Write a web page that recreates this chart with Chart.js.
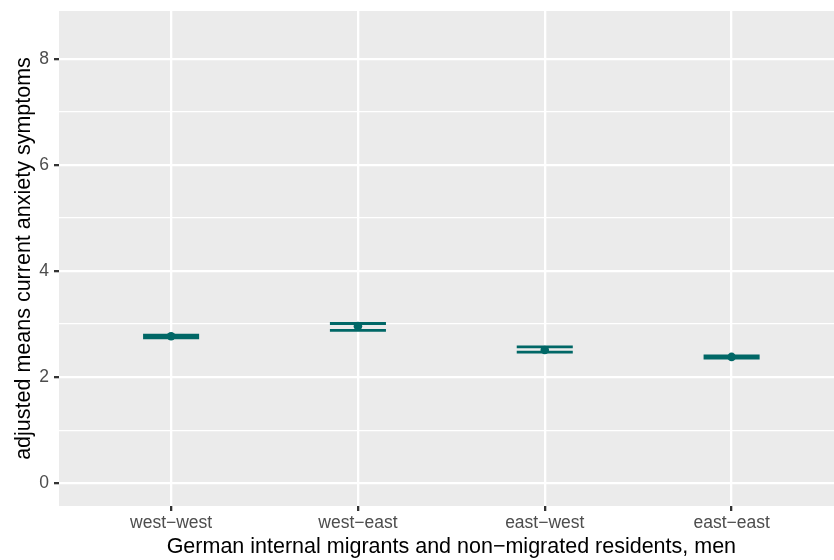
<!DOCTYPE html>
<html>
<head>
<meta charset="utf-8">
<script src="https://cdn.jsdelivr.net/npm/chart.js@4/dist/chart.umd.min.js"></script>
<style>
  html, body { margin: 0; padding: 0; background: #ffffff; }
  #wrap { width: 834px; height: 560px; overflow: hidden; }
</style>
</head>
<body>
<div id="wrap"><canvas id="c" width="848" height="560"></canvas></div>
<script>
// Groups of residents (origin-destination)
const categories = ['west\u2212west', 'west\u2212east', 'east\u2212west', 'east\u2212east'];
// Adjusted means and their confidence limits
const means = [2.77, 2.96, 2.51, 2.38];
const lower = [2.74, 2.88, 2.47, 2.36];
const upper = [2.79, 3.01, 2.57, 2.40];
// Axis ticks
const yMajorTicks = [0, 2, 4, 6, 8];
const yMinorTicks = [1, 3, 5, 7];

const TEAL = '#006766';
const CAP = 0.15; // half width of error bar caps, in category units

// Error-bar segments (caps + stem) built from the limits, separated by gaps
const capData = [];
const stemData = [];
categories.forEach((_, i) => {
  capData.push({x: i - CAP, y: upper[i]}, {x: i + CAP, y: upper[i]}, {x: i, y: null});
  capData.push({x: i - CAP, y: lower[i]}, {x: i + CAP, y: lower[i]}, {x: i, y: null});
  stemData.push({x: i, y: lower[i]}, {x: i, y: upper[i]}, {x: i, y: null});
});
const pointData = means.map((m, i) => ({x: i, y: m}));

const yAllTicks = yMajorTicks.concat(yMinorTicks).sort((a, b) => a - b);
const isMajor = v => yMajorTicks.includes(v);

const panelBg = {
  id: 'panelBg',
  beforeDraw(chart) {
    const {ctx, chartArea: a} = chart;
    ctx.save();
    ctx.fillStyle = '#EBEBEB';
    ctx.fillRect(a.left, a.top, a.right - a.left, a.bottom - a.top);
    ctx.restore();
  }
};

Chart.defaults.font.family = '"Liberation Sans", Arial, Helvetica, sans-serif';

new Chart(document.getElementById('c'), {
  type: 'line',
  data: {
    datasets: [
      {
        data: stemData, borderColor: TEAL, borderWidth: 2.8, pointRadius: 0,
        spanGaps: false, borderCapStyle: 'butt', order: 3
      },
      {
        data: capData, borderColor: TEAL, borderWidth: 2.8, pointRadius: 0,
        spanGaps: false, borderCapStyle: 'butt', order: 2
      },
      {
        data: pointData, showLine: false, pointRadius: 4.3, pointBorderWidth: 0,
        pointBackgroundColor: TEAL, borderColor: TEAL, order: 1
      }
    ]
  },
  options: {
    responsive: false,
    devicePixelRatio: 1,
    animation: false,
    events: [],
    layout: { padding: { top: 11, left: 0, right: 0, bottom: 0 } },
    plugins: { legend: { display: false }, tooltip: { enabled: false } },
    scales: {
      x: {
        type: 'linear',
        min: -0.6,
        max: 3.6,
        afterBuildTicks(scale) { scale.ticks = categories.map((_, i) => ({value: i})); },
        afterFit(scale) {
          scale.height = 54;
          scale.paddingLeft = 0;
          scale.paddingRight = 0;
        },
        ticks: {
          autoSkip: false, maxRotation: 0, padding: 2,
          color: '#4D4D4D', font: { size: 17.5 },
          callback: v => categories[v]
        },
        grid: {
          color: '#FFFFFF', lineWidth: 2.3, tickColor: '#333333',
          tickLength: 5, tickWidth: 2.3
        },
        border: { display: false },
        title: {
          display: true,
          text: 'German internal migrants and non\u2212migrated residents, men',
          color: '#000000', font: { size: 21.5 },
          padding: { top: 0, bottom: 0 }
        }
      },
      y: {
        type: 'linear',
        min: -0.43,
        max: 8.9,
        afterBuildTicks(scale) { scale.ticks = yAllTicks.map(v => ({value: v})); },
        afterFit(scale) {
          scale.width = 59;
          scale.paddingTop = 0;
          scale.paddingBottom = 0;
        },
        ticks: {
          autoSkip: false, padding: 5,
          color: '#4D4D4D', font: { size: 17.5 },
          callback: v => (isMajor(v) ? String(v) : '')
        },
        grid: {
          color: '#FFFFFF',
          lineWidth: c => (c.tick && isMajor(c.tick.value) ? 2.3 : 1.15),
          tickColor: c => (c.tick && isMajor(c.tick.value) ? '#333333' : 'rgba(0,0,0,0)'),
          tickWidth: 2.3,
          tickLength: 5
        },
        border: { display: false },
        title: {
          display: true,
          text: 'adjusted means current anxiety symptoms',
          color: '#000000', font: { size: 21.5 },
          padding: { top: 11, bottom: 0 }
        }
      }
    }
  },
  plugins: [panelBg]
});
</script>
</body>
</html>
